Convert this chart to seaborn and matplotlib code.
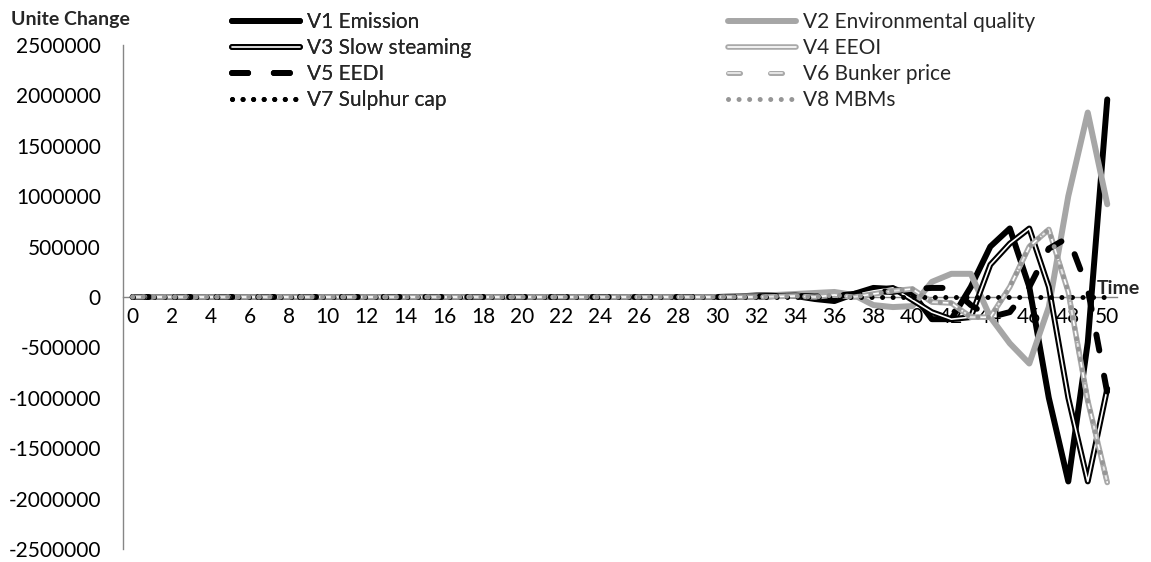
import matplotlib
matplotlib.use("Agg")
import matplotlib.pyplot as plt
import matplotlib.patheffects as pe
import seaborn as sns
import numpy as np
import pandas as pd

# ---------------- data ----------------
time = list(range(51))
x_tick_labels = [str(t) for t in range(0, 51, 2)]
y_ticks = [-2500000, -2000000, -1500000, -1000000, -500000, 0,
           500000, 1000000, 1500000, 2000000, 2500000]

v1_emission = [0, 0, 0, 0, 0, 0, 0, 0, 0, 0,
               0, 0, 0, 0, 0, 0, 0, 0, 0, 0,
               0, 0, 0, 0, 0, 0, 0, 0, 0, 0,
               0, 5000, 15000, 20000, 10000, -20000, -40000, 30000, 90000, 80000,
               40000, -220000, -220000, 100000, 500000, 680000, 100000, -1000000, -1830000, -450000,
               1960000]
v2_env_quality = [0, 0, 0, 0, 0, 0, 0, 0, 0, 0,
                  0, 0, 0, 0, 0, 0, 0, 0, 0, 0,
                  0, 0, 0, 0, 0, 0, 0, 0, 0, 0,
                  0, 5000, 10000, 20000, 30000, 40000, 50000, 20000, -80000, -100000,
                  -90000, 150000, 230000, 230000, -200000, -460000, -660000, -100000, 1000000, 1830000,
                  920000]
v3_slow_steaming = [0, 0, 0, 0, 0, 0, 0, 0, 0, 0,
                    0, 0, 0, 0, 0, 0, 0, 0, 0, 0,
                    0, 0, 0, 0, 0, 0, 0, 0, 0, 0,
                    0, 0, 5000, 10000, 15000, 0, 0, 20000, 60000, 90000,
                    -30000, -150000, -220000, -200000, 320000, 530000, 680000, 100000, -1000000, -1830000,
                    -910000]
v4_eeoi = [0, 0, 0, 0, 0, 0, 0, 0, 0, 0,
           0, 0, 0, 0, 0, 0, 0, 0, 0, 0,
           0, 0, 0, 0, 0, 0, 0, 0, 0, 0,
           0, 0, 0, 5000, 10000, 0, 20000, 0, 30000, 60000,
           80000, -50000, -60000, -200000, -200000, 100000, 500000, 670000, 50000, -1030000,
           -1840000]
v5_eedi = [0, 0, 0, 0, 0, 0, 0, 0, 0, 0,
           0, 0, 0, 0, 0, 0, 0, 0, 0, 0,
           0, 0, 0, 0, 0, 0, 0, 0, 0, 0,
           0, 0, 5000, 10000, 10000, 5000, 10000, 30000, 60000, 50000,
           80000, 90000, 90000, -80000, -200000, -150000, 100000, 480000, 590000, 80000,
           -950000]
v6_bunker_price = [0, 0, 0, 0, 0, 0, 0, 0, 0, 0,
                   0, 0, 0, 0, 0, 0, 0, 0, 0, 0,
                   0, 0, 0, 0, 0, 0, 0, 0, 0, 0,
                   0, 0, 0, 5000, 10000, 0, 20000, 0, 30000, 60000,
                   80000, -50000, -60000, -200000, -200000, 100000, 500000, 670000, 50000, -1030000,
                   -1840000]
v7_sulphur_cap = [0, 0, 0, 0, 0, 0, 0, 0, 0, 0,
                  0, 0, 0, 0, 0, 0, 0, 0, 0, 0,
                  0, 0, 0, 0, 0, 0, 0, 0, 0, 0,
                  0, 0, 0, 0, 0, 0, 0, 0, 0, 0,
                  0, 0, 0, 0, 0, 0, 0, 0, 0, 0,
                  0]
v8_mbms = [0, 0, 0, 0, 0, 0, 0, 0, 0, 0,
           0, 0, 0, 0, 0, 0, 0, 0, 0, 0,
           0, 0, 0, 0, 0, 0, 0, 0, 0, 0,
           0, 0, 0, 5000, 10000, 0, 20000, 0, 30000, 60000,
           80000, -50000, -60000, -200000, -200000, 100000, 500000, 670000, 50000, -1030000,
           -1840000]

series_names = ["V1 Emission", "V2 Environmental quality", "V3 Slow steaming",
                "V4 EEOI", "V5 EEDI", "V6 Bunker price", "V7 Sulphur cap", "V8 MBMs"]
series_values = [v1_emission, v2_env_quality, v3_slow_steaming, v4_eeoi,
                 v5_eedi, v6_bunker_price, v7_sulphur_cap, v8_mbms]

# ---------------- style ----------------
sns.set_theme(style="white")
plt.rcParams["font.family"] = ["Lato", "DejaVu Sans"]

W, H = 1151, 562
fig = plt.figure(figsize=(W / 100, H / 100), dpi=100)
ax = fig.add_axes([123 / W, 1 - 549 / H, (1117 - 123) / W, (549 - 45) / H])

gray_axis = "#868686"

styles = [
    dict(color="black", linewidth=4.3, solid_capstyle="round"),
    dict(color="#a6a6a6", linewidth=4.3, solid_capstyle="round"),
    dict(color="white", linewidth=1.2, solid_capstyle="round",
         path_effects=[pe.Stroke(linewidth=4.2, foreground="black"), pe.Normal()]),
    dict(color="white", linewidth=1.2, solid_capstyle="round",
         path_effects=[pe.Stroke(linewidth=4.0, foreground="#a9a9a9"), pe.Normal()]),
    dict(color="black", linewidth=4.3, linestyle=(0, (2.7, 4.3)), dash_capstyle="round"),
    dict(color="#e6e6e6", linewidth=1.4, linestyle=(0, (6.2, 15.4)), dash_capstyle="round",
         path_effects=[pe.Stroke(linewidth=3.6, foreground="#a9a9a9"), pe.Normal()]),
    dict(color="black", linewidth=3.6, linestyle=(0, (0.01, 2.1)), dash_capstyle="round"),
    dict(color="#969696", linewidth=3.6, linestyle=(0, (0.01, 2.1)), dash_capstyle="round"),
]

for name, vals, st in zip(series_names, series_values, styles):
    df = pd.DataFrame({"time": time, "value": vals})
    sns.lineplot(data=df, x="time", y="value", ax=ax, label=name, legend=False, **st)

lines = ax.get_lines()

# ---------------- axes ----------------
ax.set_xlim(-0.5, 50.5)
ax.set_ylim(-2500000, 2500000)
ax.set_xlabel("")
ax.set_ylabel("")
ax.set_axisbelow(True)

for s in ["top", "right"]:
    ax.spines[s].set_visible(False)
ax.spines["left"].set_color(gray_axis)
ax.spines["left"].set_linewidth(1.0)
ax.spines["bottom"].set_color(gray_axis)
ax.spines["bottom"].set_linewidth(1.0)
ax.spines["bottom"].set_position(("data", 0))
ax.spines["bottom"].set_zorder(0.5)
ax.spines["left"].set_zorder(0.5)

ax.set_yticks(y_ticks)
ax.set_yticklabels([str(v) for v in y_ticks])
ax.tick_params(axis="y", which="major", direction="out", length=4, width=1.0,
               color=gray_axis, labelsize=15, pad=12, labelcolor="black")

ax.set_xticks(list(range(0, 51, 2)))
ax.set_xticklabels(x_tick_labels)
ax.set_xticks(np.arange(-0.5, 51, 1), minor=True)
ax.tick_params(axis="x", which="major", length=0, labelsize=15, pad=7.5, labelcolor="black")
ax.tick_params(axis="x", which="minor", direction="out", length=4, width=1.0, color=gray_axis)
ax.grid(False)

# ---------------- titles ----------------
fig.text(70 / W, 1 - 20 / H, "Unite Change", ha="center", va="center",
         fontsize=14, fontweight="bold")
fig.text(1097 / W, 1 - 288 / H, "Time", ha="left", va="center",
         fontsize=14, fontweight="bold")

# ---------------- legend ----------------
fs = 15
fs_px = fs * 100 / 72
common = dict(loc="upper left", frameon=False, fontsize=fs, borderpad=0,
              borderaxespad=0, handlelength=68 / fs_px, handletextpad=7 / fs_px,
              labelspacing=0.29)
leg1 = fig.legend([lines[i] for i in (0, 2, 4, 6)], [series_names[i] for i in (0, 2, 4, 6)],
                  bbox_to_anchor=(232 / W, 1 - 12 / H), **common)
fig.add_artist(leg1)
leg2 = fig.legend([lines[i] for i in (1, 3, 5, 7)], [series_names[i] for i in (1, 3, 5, 7)],
                  bbox_to_anchor=(728 / W, 1 - 12 / H), **common)

fig.savefig("out.png", dpi=100)
